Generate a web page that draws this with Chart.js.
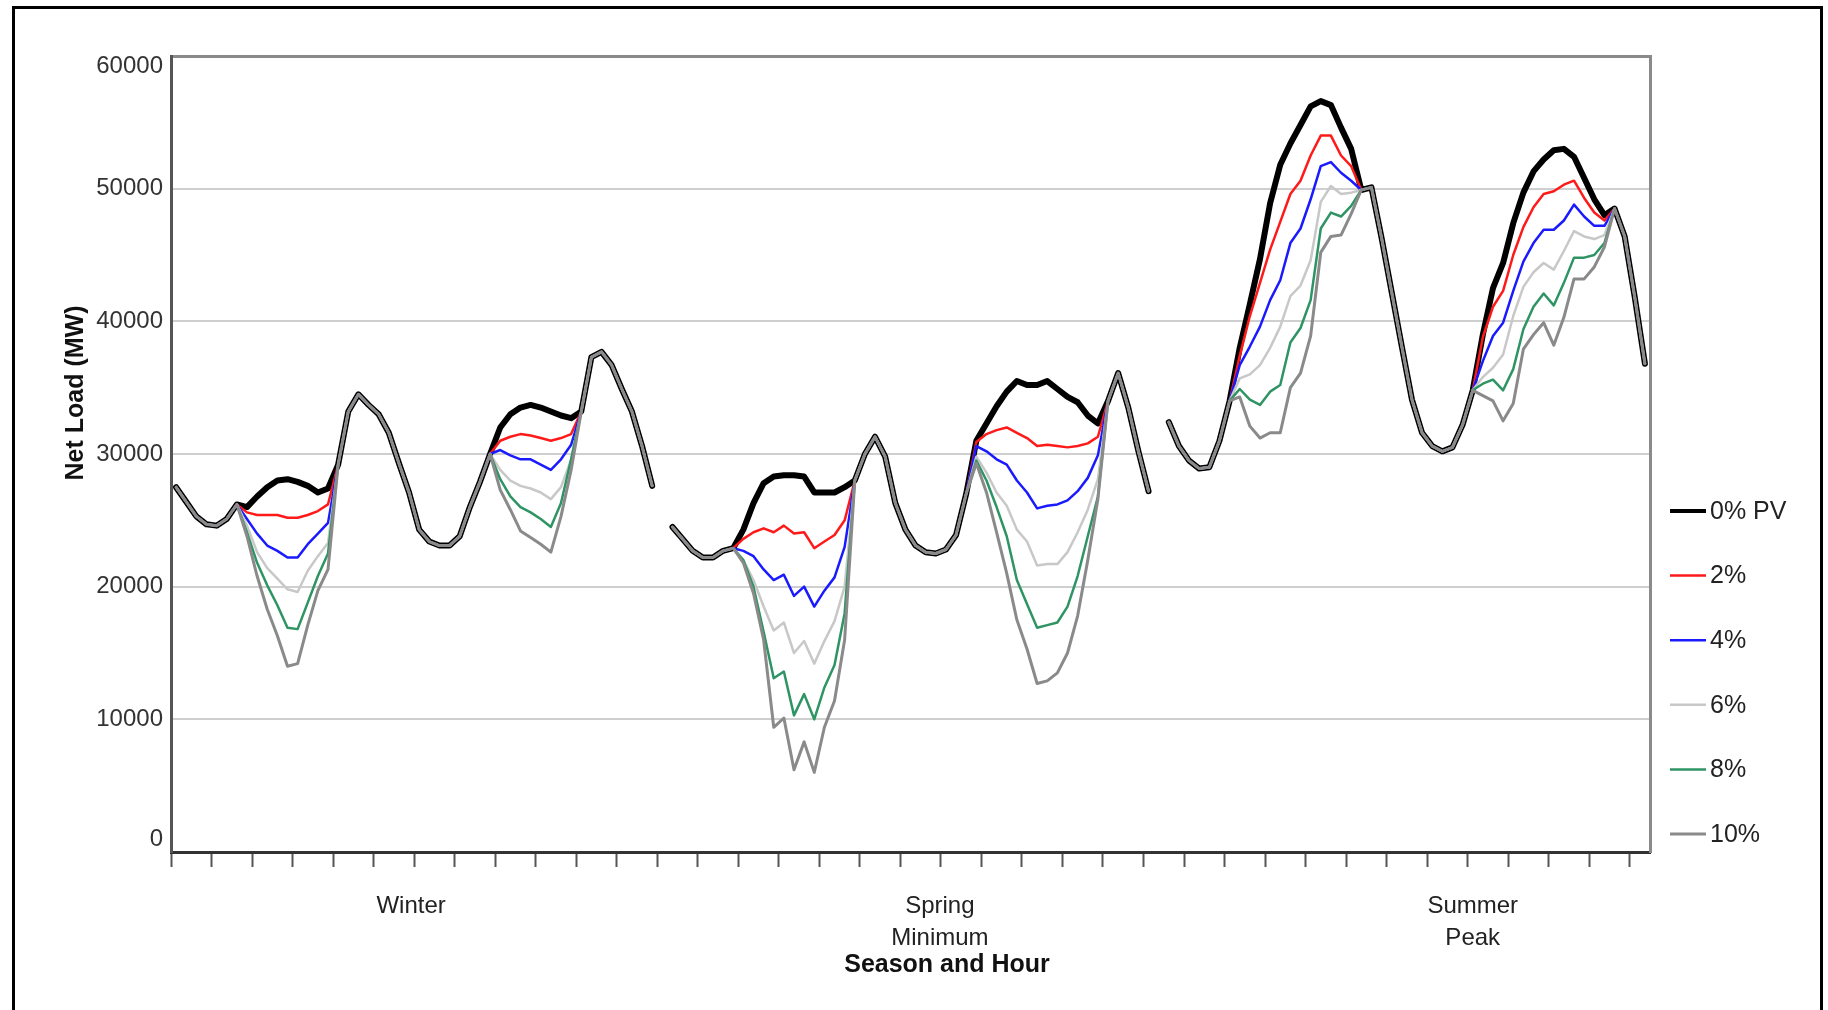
<!DOCTYPE html>
<html>
<head>
<meta charset="utf-8">
<title>Net Load by Season and Hour</title>
<script src="https://cdn.jsdelivr.net/npm/chart.js@4.4.1/dist/chart.umd.min.js"></script>
<style>
  html, body { margin: 0; padding: 0; background: #fff; overflow: hidden; }
  #wrap { position: relative; width: 1828px; height: 1010px; }
  #wrap canvas { position: absolute; left: 0; top: 0; }
  /* page frame around the figure (runs off the bottom edge) */
  #frame { position: absolute; left: 12px; top: 6px; width: 1811px; height: 1100px;
           border: 3px solid #000; box-sizing: border-box; pointer-events: none; }
</style>
</head>
<body>
<div id="wrap">
  <canvas id="loadChart" width="1828" height="1010"></canvas>
  <div id="frame"></div>
</div>
<script>
/* ---------- DATA ---------- */
// 48 hourly slots per season, one empty slot between seasons (146 slots)
const seriesNames  = ["0% PV", "2%", "4%", "6%", "8%", "10%"];
const seasonLabels = ["Winter", ["Spring", "Minimum"], ["Summer", "Peak"]];
const seasonTickAt = [23.2, 75.4, 128];   // slot value where each season label sits

// Net load (MW), one value per slot
const pv0 = [
  27500, 26400, 25300, 24700, 24600, 25100, 26200, 26000, 26800, 27500, 28000, 28100,
  27900, 27600, 27100, 27400, 29200, 33200, 34500, 33700, 33000, 31600, 29300, 27100,
  24300, 23400, 23100, 23100, 23800, 26000, 27900, 30000, 32000, 33000, 33500, 33700,
  33500, 33200, 32900, 32700, 33200, 37300, 37700, 36700, 34900, 33200, 30600, 27600,
  null,
  24500, 23600, 22700, 22200, 22200, 22700, 22900, 24300, 26300, 27800, 28300, 28400,
  28400, 28300, 27100, 27100, 27100, 27500, 28000, 30000, 31300, 29800, 26300, 24300,
  23100, 22600, 22500, 22800, 23900, 27000, 31000, 32300, 33600, 34700, 35500, 35200,
  35200, 35500, 34900, 34300, 33900, 32900, 32300, 34000, 36100, 33500, 30200, 27200,
  null,
  32400, 30600, 29500, 28900, 29000, 31000, 34000, 38000, 41300, 44700, 48900, 51800,
  53400, 54800, 56200, 56600, 56300, 54600, 53000, 49900, 50100, 46300, 42200, 38100,
  34100, 31600, 30600, 30200, 30500, 32200, 34800, 39000, 42500, 44400, 47400, 49700,
  51300, 52200, 52900, 53000, 52400, 50800, 49200, 48000, 48500, 46400, 41800, 36800
];
const pv2 = [
  27500, 26400, 25300, 24700, 24600, 25100, 26200, 25600, 25400, 25400, 25400, 25200,
  25200, 25400, 25700, 26200, 29200, 33200, 34500, 33700, 33000, 31600, 29300, 27100,
  24300, 23400, 23100, 23100, 23800, 26000, 27900, 30000, 31000, 31300, 31500, 31400,
  31200, 31000, 31200, 31500, 33200, 37300, 37700, 36700, 34900, 33200, 30600, 27600,
  null,
  24500, 23600, 22700, 22200, 22200, 22700, 22900, 23600, 24100, 24400, 24100, 24600,
  24000, 24100, 22900, 23400, 23900, 25000, 28000, 30000, 31300, 29800, 26300, 24300,
  23100, 22600, 22500, 22800, 23900, 27000, 30900, 31500, 31800, 32000, 31600, 31200,
  30600, 30700, 30600, 30500, 30600, 30800, 31300, 34000, 36100, 33500, 30200, 27200,
  null,
  32400, 30600, 29500, 28900, 29000, 31000, 34000, 37400, 40400, 42900, 45400, 47500,
  49600, 50600, 52500, 54000, 54000, 52500, 51700, 49900, 50100, 46300, 42200, 38100,
  34100, 31600, 30600, 30200, 30500, 32200, 34800, 38800, 41100, 42300, 45000, 47100,
  48600, 49600, 49800, 50300, 50600, 49300, 48200, 47600, 48500, 46400, 41800, 36800
];
const pv4 = [
  27500, 26400, 25300, 24700, 24600, 25100, 26200, 25100, 24000, 23100, 22700, 22200,
  22200, 23200, 24000, 24800, 29200, 33200, 34500, 33700, 33000, 31600, 29300, 27100,
  24300, 23400, 23100, 23100, 23800, 26000, 27900, 30000, 30300, 29900, 29600, 29600,
  29200, 28800, 29600, 30700, 33200, 37300, 37700, 36700, 34900, 33200, 30600, 27600,
  null,
  24500, 23600, 22700, 22200, 22200, 22700, 22900, 22700, 22300, 21300, 20500, 20900,
  19300, 20000, 18500, 19700, 20700, 23000, 28000, 30000, 31300, 29800, 26300, 24300,
  23100, 22600, 22500, 22800, 23900, 27000, 30600, 30200, 29600, 29200, 28000, 27100,
  25900, 26100, 26200, 26500, 27200, 28200, 29900, 34000, 36100, 33500, 30200, 27200,
  null,
  32400, 30600, 29500, 28900, 29000, 31000, 34000, 36700, 38100, 39600, 41600, 43100,
  45900, 47000, 49200, 51700, 52000, 51200, 50600, 49900, 50100, 46300, 42200, 38100,
  34100, 31600, 30600, 30200, 30500, 32200, 34800, 37000, 38900, 39900, 42300, 44500,
  45900, 46900, 46900, 47600, 48800, 47900, 47200, 47200, 48500, 46400, 41800, 36800
];
const pv6 = [
  27500, 26400, 25300, 24700, 24600, 25100, 26200, 24600, 22600, 21400, 20600, 19800,
  19600, 21200, 22300, 23300, 29200, 33200, 34500, 33700, 33000, 31600, 29300, 27100,
  24300, 23400, 23100, 23100, 23800, 26000, 27900, 30000, 28800, 28000, 27600, 27400,
  27100, 26600, 27500, 29600, 33200, 37300, 37700, 36700, 34900, 33200, 30600, 27600,
  null,
  24500, 23600, 22700, 22200, 22200, 22700, 22900, 22000, 20500, 18500, 16700, 17300,
  15000, 15900, 14200, 15900, 17400, 20000, 28000, 30000, 31300, 29800, 26300, 24300,
  23100, 22600, 22500, 22800, 23900, 27000, 29800, 28600, 27100, 26100, 24300, 23400,
  21600, 21700, 21700, 22600, 24100, 25800, 28100, 34000, 36100, 33500, 30200, 27200,
  null,
  32400, 30600, 29500, 28900, 29000, 31000, 34000, 35700, 36000, 36700, 38000, 39600,
  41900, 42700, 44600, 49000, 50200, 49600, 49700, 49900, 50100, 46300, 42200, 38100,
  34100, 31600, 30600, 30200, 30500, 32200, 34800, 35800, 36500, 37500, 40400, 42600,
  43700, 44400, 43900, 45300, 46800, 46400, 46200, 46500, 48500, 46400, 41800, 36800
];
const pv8 = [
  27500, 26400, 25300, 24700, 24600, 25100, 26200, 24100, 21800, 20100, 18600, 16900,
  16800, 18800, 20800, 22500, 29200, 33200, 34500, 33700, 33000, 31600, 29300, 27100,
  24300, 23400, 23100, 23100, 23800, 26000, 27900, 30000, 28100, 26800, 26000, 25600,
  25100, 24500, 26300, 29600, 33200, 37300, 37700, 36700, 34900, 33200, 30600, 27600,
  null,
  24500, 23600, 22700, 22200, 22200, 22700, 22900, 22000, 20000, 16600, 13100, 13600,
  10300, 11900, 10000, 12400, 14100, 18000, 28000, 30000, 31300, 29800, 26300, 24300,
  23100, 22600, 22500, 22800, 23900, 27000, 29500, 28000, 26000, 23800, 20500, 18700,
  16900, 17100, 17300, 18500, 20800, 23800, 26800, 34000, 36100, 33500, 30200, 27200,
  null,
  32400, 30600, 29500, 28900, 29000, 31000, 34000, 34900, 34100, 33700, 34700, 35200,
  38400, 39500, 41600, 47000, 48200, 47900, 48700, 49900, 50100, 46300, 42200, 38100,
  34100, 31600, 30600, 30200, 30500, 32200, 34800, 35300, 35600, 34800, 36400, 39400,
  41100, 42100, 41200, 42900, 44800, 44800, 45000, 45900, 48500, 46400, 41800, 36800
];
const pv10 = [
  27500, 26400, 25300, 24700, 24600, 25100, 26200, 23800, 20800, 18300, 16300, 14000,
  14200, 17100, 19700, 21300, 29200, 33200, 34500, 33700, 33000, 31600, 29300, 27100,
  24300, 23400, 23100, 23100, 23800, 26000, 27900, 30000, 27300, 25800, 24200, 23700,
  23200, 22600, 25300, 28800, 33200, 37300, 37700, 36700, 34900, 33200, 30600, 27600,
  null,
  24500, 23600, 22700, 22200, 22200, 22700, 22900, 21800, 19500, 16000, 9400, 10100,
  6200, 8300, 6000, 9400, 11400, 16000, 28000, 30000, 31300, 29800, 26300, 24300,
  23100, 22600, 22500, 22800, 23900, 27000, 29300, 27100, 24100, 21000, 17500, 15300,
  12700, 12900, 13500, 15000, 17800, 22000, 26600, 34000, 36100, 33500, 30200, 27200,
  null,
  32400, 30600, 29500, 28900, 29000, 31000, 34000, 34300, 32100, 31200, 31600, 31600,
  35000, 36100, 38900, 45200, 46400, 46500, 48100, 49900, 50100, 46300, 42200, 38100,
  34100, 31600, 30600, 30200, 30500, 32200, 34800, 34400, 34000, 32500, 33800, 37900,
  39000, 39900, 38200, 40300, 43200, 43200, 44100, 45600, 48500, 46400, 41800, 36800
];

/* ---------- STYLE ---------- */
const seriesValues = [pv0, pv2, pv4, pv6, pv8, pv10];
const seriesColors = ["#000000", "#ff1a1a", "#1a1aff", "#c8c8c8", "#2f9464", "#8a8a8a"];
const seriesWidths = [6, 2.5, 2.5, 2.5, 2.5, 3];
const FONT = "'Liberation Sans', Arial, Helvetica, sans-serif";

// tick marks under the x axis, every 4 slots
const markTicks = [];
for (let v = -0.5; v <= 145.5; v += 4) markTicks.push(v);

/* ---------- PLUGINS ---------- */
// axis titles and the key on the right, placed like the original figure
const sideText = {
  id: "sideText",
  afterDraw(chart) {
    const { ctx, chartArea: area } = chart;
    ctx.save();
    ctx.fillStyle = "#111";
    ctx.font = "bold 25px " + FONT;
    ctx.textAlign = "center";
    ctx.textBaseline = "middle";

    // y-axis title (sits above the middle of the axis)
    ctx.save();
    ctx.translate(area.left - 95, area.top + 337);
    ctx.rotate(-Math.PI / 2);
    ctx.fillText("Net Load (MW)", 0, 0);
    ctx.restore();

    // x-axis title
    ctx.fillText("Season and Hour", area.left + 776, area.bottom + 113);

    // key
    ctx.font = "25px " + FONT;
    ctx.textAlign = "left";
    chart.data.datasets.forEach((ds, k) => {
      const y = area.top + 455 + k * 64.6;
      ctx.strokeStyle = ds.borderColor;
      ctx.lineWidth = Math.min(ds.borderWidth, 4);
      ctx.beginPath();
      ctx.moveTo(area.right + 20, y);
      ctx.lineTo(area.right + 56, y);
      ctx.stroke();
      ctx.fillStyle = "#222";
      ctx.fillText(ds.label, area.right + 60, y + 1);
    });
    ctx.restore();
  }
};

/* ---------- CHART ---------- */
Chart.defaults.font.family = FONT;

const datasets = seriesNames.map((name, k) => ({
  label: name,
  data: seriesValues[k].map((v, i) => ({ x: i, y: v })),
  borderColor: seriesColors[k],
  backgroundColor: seriesColors[k],
  borderWidth: seriesWidths[k],
  order: seriesNames.length - k,   // 10% drawn on top, 0% underneath
  pointRadius: 0,
  tension: 0,
  spanGaps: false
}));

// the end labels of the value axis are nudged inside the plot, as in the original
function yLabel(v) {
  if (v === 60000) return ["", String(v)];
  if (v === 0) return [String(v), ""];
  return String(v);
}
function yFont(c) {
  const v = c.tick && c.tick.value;
  if (v === 60000) return { size: 24, lineHeight: "20px" };
  if (v === 0) return { size: 24, lineHeight: "26px" };
  return { size: 24 };
}

new Chart(document.getElementById("loadChart"), {
  type: "line",
  data: { datasets },
  plugins: [sideText],
  options: {
    responsive: false,
    animation: false,
    layout: { padding: { left: 0, top: 56, right: 178, bottom: 0 } },
    plugins: { legend: { display: false }, tooltip: { enabled: false } },
    elements: { line: { borderJoinStyle: "round", borderCapStyle: "round" } },
    scales: {
      x: {
        type: "linear",
        min: -0.5,
        max: 145.5,
        afterBuildTicks: (scale) => {
          scale.ticks = markTicks.concat(seasonTickAt).map(v => ({ value: v }));
        },
        afterFit: (scale) => { scale.height = 158; },
        ticks: {
          autoSkip: false,
          maxRotation: 0,
          padding: 23,
          color: "#222",
          font: { size: 24, lineHeight: 1.33 },
          callback: (value) => {
            const k = seasonTickAt.indexOf(value);
            return k >= 0 ? seasonLabels[k] : "";
          }
        },
        grid: {
          drawOnChartArea: false,
          drawTicks: true,
          tickLength: 15,
          tickWidth: 2,
          color: "#555",
          tickColor: (c) => (seasonTickAt.includes(c.tick.value) ? "rgba(0,0,0,0)" : "#555")
        },
        border: { display: true, color: "#333", width: 3 }
      },
      y: {
        min: 0,
        max: 60000,
        afterFit: (scale) => { scale.width = 171; },
        ticks: {
          stepSize: 10000,
          padding: 8,
          color: "#333",
          font: yFont,
          callback: yLabel
        },
        grid: {
          drawTicks: false,
          color: (c) => (c.tick.value === 60000 ? "#8a8a8a" : "#cfcfcf"),
          lineWidth: (c) => (c.tick.value === 60000 ? 3 : 2)
        },
        border: { display: true, color: "#555", width: 3 }
      },
      y2: {
        position: "right",
        afterFit: (scale) => { scale.width = 0; },
        ticks: { display: false },
        grid: { display: false },
        border: { display: true, color: "#8a8a8a", width: 3 }
      }
    }
  }
});
</script>
</body>
</html>
